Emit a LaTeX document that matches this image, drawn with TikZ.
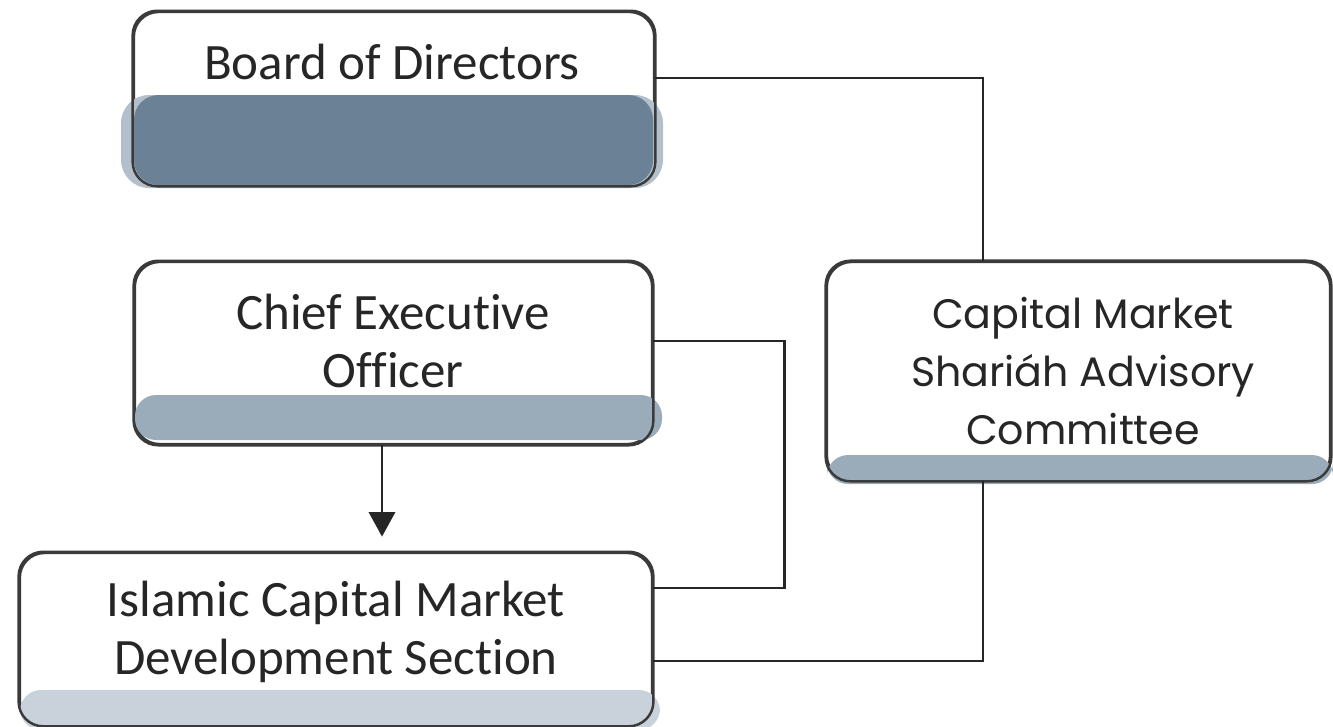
\documentclass[tikz,border=0pt]{standalone}
\usepackage{fontspec}
\setmainfont{Carlito}[Ligatures={NoCommon,NoRequired,NoContextual}, Contextuals=NoAlternate]
\newfontfamily\geofont{Poppins}
\usetikzlibrary{arrows.meta, positioning, calc}
\definecolor{outlinegray}{HTML}{3A3A3A}
\definecolor{boardshade}{HTML}{6B8196}
\definecolor{boardhalo}{HTML}{B3C0CC}
\definecolor{ceoshade}{HTML}{9AABBA}
\definecolor{icmshade}{HTML}{C9D2DB}
\definecolor{textdark}{HTML}{262626}

\begin{document}
\begin{tikzpicture}[x=0.01cm, y=-0.01cm,
  unitbox/.style={rectangle, draw=outlinegray, line width=0.7pt, fill=white, rounded corners=7pt},
  rim/.style={draw=outlinegray, line width=0.7pt, rounded corners=7pt},
  unittext/.style={align=center, font=\fontsize{14.5}{16.5}\selectfont, text=textdark},
  link/.style={draw=black!85, line width=0.7pt},
  arrow/.style={-{Triangle[length=7pt, width=7.5pt]}, draw=black!85, line width=0.7pt}
]
  \useasboundingbox (0,0) rectangle (1333,726);

  % Boxes
  \node[unitbox, minimum width=5.2cm, minimum height=1.73cm] (board) at (394,98.5) {};
  \node[unitbox, minimum width=5.17cm, minimum height=1.82cm] (ceo) at (393.5,353) {};
  \node[unitbox, minimum width=6.32cm, minimum height=1.72cm] (icm) at (336,639) {};
  \node[unitbox, minimum width=5.03cm, minimum height=2.18cm] (committee) at (1078.5,371) {};

  % Shaded bands
  \fill[boardhalo, rounded corners=8pt] (121,95) rectangle (663,188);
  \fill[boardshade, rounded corners=7pt] (134,95) rectangle (653,185);
  \fill[ceoshade, rounded corners=6pt] (135,395) rectangle (662,440);
  \fill[icmshade, rounded corners=6pt] (20,690) rectangle (660,730);
  \fill[ceoshade, rounded corners=6pt] (827,455) rectangle (1333,484);

  % Outlines over the bands
  \draw[rim] (board.north west) rectangle (board.south east);
  \draw[rim] (ceo.north west) rectangle (ceo.south east);
  \draw[rim] (icm.north west) rectangle (icm.south east);
  \draw[rim] (committee.north west) rectangle (committee.south east);

  % Labels
  \node[unittext] (boardtxt) at (392,62) {Board of Directors};
  \node[unittext] (ceotxt) at (393,341) {Chief Executive\\Officer};
  \node[unittext] (icmtxt) at (336,632) {Islamic Capital Market\\Development Section};
  \node[unittext, font=\geofont\fontsize{11.7}{16.5}\selectfont] (committeetxt) at (1083,371) {Capital Market\\Shariáh Advisory\\Committee};

  % Connectors
  \draw[link] ($(board.east)+(0,-20.5)$) -| ($(committee.north)+(-95.5,0)$);
  \draw[link] ($(ceo.east)+(0,-12)$) -- ++(131,0) |- ($(icm.east)+(0,-51)$);
  \draw[link] ($(committee.south)+(-95.5,0)$) |- ($(icm.east)+(0,22)$);
  \coordinate (arrowtop) at ($(ceo.south)+(-11.5,0)$);
  \draw[arrow, shorten >=4.3pt] (arrowtop) -- (arrowtop |- icm.north);
\end{tikzpicture}
\end{document}
